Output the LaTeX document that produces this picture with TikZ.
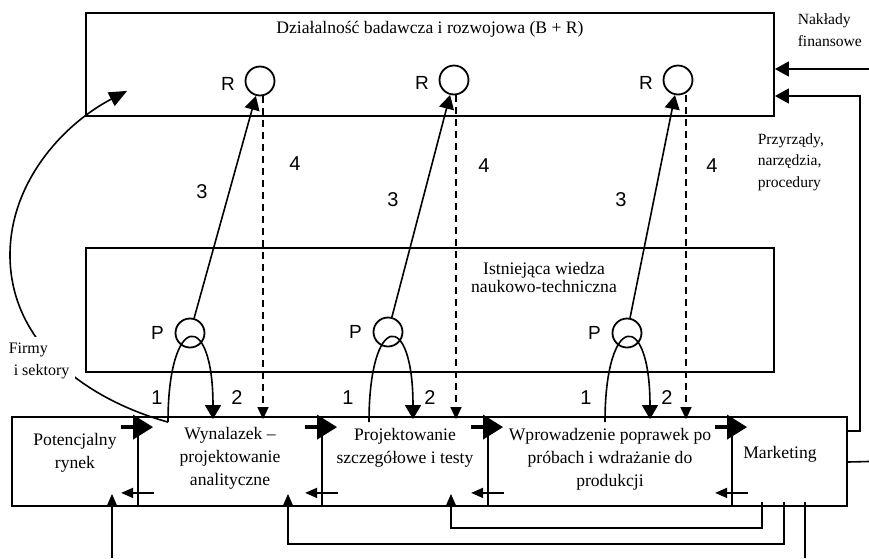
\documentclass[tikz,border=0pt]{standalone}
\usepackage{fontspec}
\setmainfont{Liberation Serif}
\newfontfamily\arialf{Liberation Sans}
\usepackage{tikz}
\usetikzlibrary{arrows.meta,positioning,calc}

\begin{document}
\begin{tikzpicture}[x=0.5pt, y=-0.5pt, line width=0.8pt,
    >={Triangle[length=7pt,width=7.5pt]},
    box/.style={draw, line width=0.9pt, inner sep=0pt, minimum height=44.5pt},
    circ/.style={draw, circle, line width=0.9pt, minimum size=14.5pt, inner sep=0pt},
    txt/.style={font=\fontsize{8.8}{11.5}\selectfont, align=center, inner sep=0pt},
    side/.style={txt, align=left, anchor=west, font=\fontsize{7.8}{10.8}\selectfont},
    lbl/.style={font=\arialf\fontsize{9.5}{9.5}\selectfont, inner sep=0pt},
    num/.style={font=\arialf\fontsize{10}{10}\selectfont, inner sep=0pt},
    conn/.style={->},
    dsh/.style={-{Triangle[length=6pt,width=5.5pt]}, dash pattern=on 3.5pt off 2.5pt},
    fwd/.style={line width=1.8pt, -{Triangle[length=10pt,width=12pt]}},
    back/.style={-{Triangle[length=6pt,width=5pt]}},
    fb/.style={-{Triangle[length=6pt,width=5pt]}}]
  \useasboundingbox (0,0) rectangle (869,558);
  \node[box, minimum width=344pt, minimum height=51.5pt] (br) at (430,64.5) {};
  \node[txt] (br-t) at (430,29.5) {Działalność badawcza i rozwojowa (B + R)};
  \node[box, minimum width=344pt, minimum height=62pt] (wiedza) at (430,310) {};
  \node[txt, font=\fontsize{8.8}{9}\selectfont] (wiedza-t) at (544,277) {Istniejąca wiedza\\naukowo-techniczna};
  \node[box, minimum width=63pt] (rynek) at (75,461.5) {};
  \node[box, minimum width=92pt] (wynalazek) at (230,461.5) {};
  \node[box, minimum width=83pt] (projekt) at (405,461.5) {};
  \node[box, minimum width=122pt] (wdrozenie) at (610,461.5) {};
  \node[box, minimum width=57.5pt] (marketing) at (789.5,461.5) {};
  \node[txt] (rynek-t) at (75,453) {Potencjalny\\rynek};
  \node[txt] (wynalazek-t) at (230,458) {Wynalazek –\\projektowanie\\analityczne};
  \node[txt] (projekt-t) at (405,447.5) {Projektowanie\\szczegółowe i testy};
  \node[txt] (wdrozenie-t) at (610,459) {Wprowadzenie poprawek po\\próbach i wdrażanie do\\produkcji};
  \node[txt] (marketing-t) at (780,454) {Marketing};
  \node[side] (naklady) at (797,30) {Nakłady\\finansowe};
  \node[side] (przyrzady) at (757,162) {Przyrządy,\\narzędzia,\\procedury};

  \foreach \n/\x/\y in {1/260/81, 2/454/80, 3/678/80} {
    \node[circ] (R\n) at (\x,\y) {};
    \node[lbl, left=4.5pt of R\n, yshift=-1.5pt] (R\n-l) {R};
  }
  \foreach \n/\x/\y in {1/190/333, 2/388/332, 3/627/333} {
    \node[circ] (P\n) at (\x,\y) {};
    \node[lbl, left=5pt of P\n] (P\n-l) {P};
    \draw[conn] (P\n) -- (R\n);
  }
  \foreach \p/\b/\da/\db in {P1/wynalazek/-22/23, P2/projekt/-19/25, P3/wdrozenie/-22/23} {
    \coordinate (\p-a) at ($(\p |- \b.north)+(\da,6)$);
    \coordinate (\p-b) at ($(\p |- \b.north)+(\db,3)$);
    \draw[-{Triangle[length=7pt,width=8pt]}] (\p-a) .. controls +(0,-110) and +(0,-110) .. (\p-b);
  }
  \foreach \r/\b/\s in {R1/wynalazek/3, R2/projekt/2, R3/wdrozenie/8} {
    \coordinate (\r-d) at ($(\r.south)+(\s,0)$);
    \draw[dsh] (\r-d) -- ($(\r-d |- \b.north)+(0,3)$);
  }
  \foreach \x/\t in {157/1, 237/2, 348/1, 430/2, 586/1, 667/2}
    \node[num] (n\t-\x) at (\x,398) {\t};
  \foreach \x/\y/\t in {202/192/3, 393/200/3, 621/200/3, 295/164/4, 484/166/4, 712/166/4}
    \node[num] (n\t-\x) at (\x,\y) {\t};

  \foreach \b in {wynalazek, projekt, wdrozenie, marketing} {
    \draw[fwd] ($(\b.north west)+(-16,11)$) -- ++(32,0);
    \draw[back] ($(\b.south west)+(17,-14)$) -- ++(-33,0);
  }

  \coordinate (firmy-e) at ($(br.south west)+(42,-26)$);
  \draw[-{Triangle[length=9pt,width=7.5pt]}] (P1-a) .. controls (84,398.5) and (10,342) .. (10,255)
    .. controls (10,182) and (63.5,124) .. (firmy-e);
  \node[txt, fill=white, align=left, anchor=west, inner sep=3pt, font=\fontsize{8}{11}\selectfont] (firmy) at (2,361) {Firmy\\\hspace{2.5pt}i sektory};

  \coordinate (redge) at (869,69);
  \coordinate (bot) at (0,558);
  \draw[conn] (redge) -- (redge -| br.east);
  \draw[conn] ($(marketing.north east)+(0,15)$) -- ++(12,0) |- ($(br.east)+(0,31.5)$);
  \draw ($(marketing.east)+(0,0.5)$) -- (redge |- marketing.east);

  \coordinate (m1) at ($(marketing.south west)+(31,-5)$);
  \coordinate (m2) at ($(marketing.south west)+(53,-5)$);
  \coordinate (m3) at ($(marketing.south west)+(74,-5)$);
  \coordinate (t-proj) at ($(projekt.south)+(46,-13)$);
  \coordinate (t-wyn) at ($(wynalazek.south)+(58,-13)$);
  \coordinate (t-ryn) at ($(rynek.south)+(37,-13)$);
  \draw[fb] (m1) -- ++(0,26) -| (t-proj);
  \draw[fb] (m2) -- ++(0,42) -| (t-wyn);
  \draw (m3) -- (m3 |- bot);
  \draw[fb] (t-ryn |- bot) -- (t-ryn);
\end{tikzpicture}
\end{document}
